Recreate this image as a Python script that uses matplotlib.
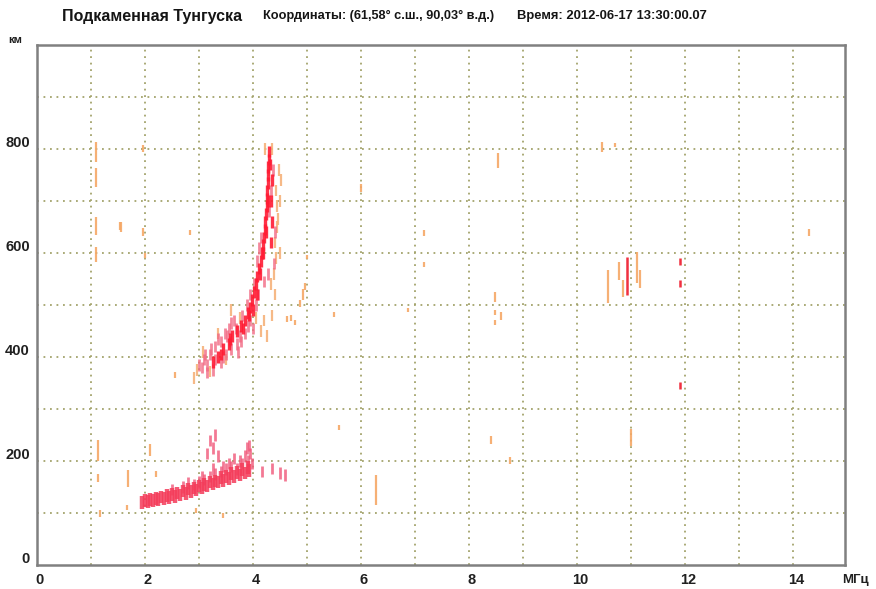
import matplotlib
matplotlib.use('Agg')
import matplotlib.pyplot as plt

plt.rcParams['font.family'] = ['Liberation Sans', 'DejaVu Sans']
plt.rcParams['font.weight'] = 'bold'

station = 'Подкаменная Тунгуска'
coords = 'Координаты: (61,58° с.ш., 90,03° в.д.)'
timestamp = 'Время: 2012-06-17 13:30:00.07'

freq_ticks = [0, 2, 4, 6, 8, 10, 12, 14]
height_ticks = [0, 200, 400, 600, 800]

# F-layer trace, strongest echoes (MHz, km)
f_strong = [3.25, 3.35, 3.45, 3.55, 3.62, 3.70, 3.78, 3.85, 3.90, 3.95, 3.98, 4.02,
            4.05, 4.08, 4.11, 4.14, 4.16, 4.18, 4.20, 4.22, 4.23, 4.24, 4.25, 4.26,
            4.26, 4.27, 4.28, 4.28, 4.29, 4.30, 4.33, 4.35, 4.34, 4.36, 3.82, 3.92,
            4.00, 4.07, 4.13, 4.19, 4.24, 4.27, 4.31, 3.40, 3.58]
h_strong = [390, 400, 415, 425, 440, 450, 460, 470, 485, 495, 510, 525,
            540, 555, 570, 585, 600, 615, 630, 645, 660, 675, 690, 705,
            720, 735, 750, 765, 780, 795, 620, 660, 700, 740, 455, 480,
            490, 520, 560, 600, 640, 700, 770, 405, 435]

# F-layer trace, weaker spread
f_mid = [3.05, 3.10, 3.15, 3.20, 3.30, 3.40, 3.48, 3.55, 3.60, 3.30, 3.40, 3.50,
         3.60, 3.70, 3.75, 3.85, 3.90, 3.15, 3.00, 3.65, 3.80, 3.95, 4.00, 4.05,
         3.25, 3.45, 3.58, 3.72, 4.10, 4.20, 4.38, 4.40, 4.30, 4.12, 3.12, 3.22,
         3.35, 3.52, 3.68, 3.78, 3.88, 4.02, 4.08, 4.15, 4.33, 4.37, 4.28, 3.95]
h_mid = [380, 395, 385, 405, 420, 430, 445, 455, 465, 395, 390, 405,
         415, 425, 440, 445, 460, 370, 385, 470, 480, 470, 455, 500,
         375, 400, 430, 410, 520, 545, 580, 640, 680, 610, 405, 415,
         435, 440, 455, 430, 500, 540, 585, 630, 720, 760, 560, 520]

# F-layer trace, faint edge echoes
f_faint = [4.40, 4.45, 4.45, 4.42, 4.48, 4.35, 4.38, 4.40, 4.35, 4.15, 4.20, 4.50,
           4.50, 4.52, 2.97, 2.90, 4.25, 3.60, 3.35, 4.42, 4.30, 4.22, 3.08, 3.20,
           3.50, 3.75, 4.05, 4.47, 4.33]
h_faint = [620, 650, 690, 720, 760, 800, 560, 520, 480, 450, 470, 600,
           700, 740, 375, 360, 440, 490, 445, 590, 760, 800, 410, 372,
           395, 475, 475, 665, 540]

# E / F1 trace, dense band
f_low = [1.95, 2.05, 2.15, 2.25, 2.35, 2.45, 2.55, 2.65, 2.75, 2.85, 2.95, 3.05,
         3.15, 3.25, 3.35, 3.45, 3.55, 3.65, 3.75, 3.85, 3.92, 2.10, 2.30, 2.50,
         2.70, 2.90, 3.10, 3.30, 3.50, 3.70, 3.90, 2.00, 2.20, 2.40, 2.60, 2.80,
         3.00, 3.20, 3.40, 3.60, 3.80]
h_low = [120, 122, 124, 126, 128, 130, 132, 135, 138, 141, 144, 148,
         152, 156, 160, 163, 166, 170, 173, 177, 182, 126, 131, 136,
         142, 148, 155, 162, 170, 178, 188, 124, 128, 134, 139, 146,
         152, 160, 168, 176, 184]

# E / F1 trace, echoes above the band
f_low_up = [2.50, 2.70, 2.90, 3.00, 3.10, 3.20, 3.30, 3.40, 3.50, 3.60, 3.70, 3.80,
            3.90, 3.95, 3.92, 3.55, 3.25, 3.75, 3.15, 3.20, 3.25, 3.30, 3.35, 4.17,
            4.35, 4.50, 4.60, 3.85, 3.65, 3.45, 3.05, 2.80, 3.88, 3.98]
h_low_up = [145, 150, 155, 160, 165, 170, 175, 180, 185, 190, 185, 195,
            200, 215, 230, 195, 185, 200, 215, 240, 225, 250, 210, 180,
            186, 177, 173, 210, 205, 190, 170, 158, 225, 195]

# scattered single echoes: frequency, lower and upper height
f_spot = [1.10, 1.10, 1.10, 1.10, 1.56, 1.96, 2.00, 7.17, 7.17, 8.54, 8.48, 8.48,
          8.60, 8.48, 6.87, 10.46, 10.70, 10.57, 10.78, 10.85, 11.11, 11.17, 11.00,
          14.30, 8.40, 8.76, 6.28, 5.60, 4.93, 4.70, 5.50, 1.13, 1.13, 1.68, 2.10,
          2.20, 1.17, 1.67, 1.54, 2.83, 2.55, 6.00, 4.63, 4.78, 4.87, 4.96, 5.00,
          1.97, 3.45, 2.95]
lo_spot = [775, 727, 635, 583, 640, 632, 590, 633, 573, 763, 506, 481,
           471, 462, 487, 794, 804, 504, 548, 515, 542, 533, 228,
           632, 232, 195, 115, 260, 510, 470, 476, 200, 160, 150, 210,
           170, 92, 105, 645, 635, 360, 718, 468, 462, 496, 529, 588,
           795, 90, 100]
hi_spot = [813, 763, 669, 612, 660, 648, 600, 644, 583, 792, 525, 490,
           487, 471, 494, 813, 812, 567, 583, 548, 602, 567, 262,
           646, 248, 208, 173, 270, 530, 480, 486, 240, 176, 182, 232,
           180, 106, 115, 660, 645, 372, 732, 478, 472, 510, 542, 596,
           808, 100, 110]

# strong isolated echoes near 11.9 MHz and 10.9 MHz
f_spot_red = [11.90, 11.90, 11.90, 10.93]
lo_spot_red = [576, 535, 338, 519]
hi_spot_red = [590, 548, 352, 592]

fig = plt.figure(figsize=(8.76, 5.89), dpi=100)
ax = fig.add_axes([0.0422, 0.0407, 0.9224, 0.8829])

dash = 22
ax.vlines(f_faint, [h - dash / 2 for h in h_faint], [h + dash / 2 for h in h_faint],
          color='#f6b27a', lw=1.6, alpha=0.9, zorder=3)
ax.vlines(f_spot, lo_spot, hi_spot, color='#f5a866', lw=1.6, alpha=0.9, zorder=3)
ax.vlines(f_mid, [h - dash / 2 for h in h_mid], [h + dash / 2 for h in h_mid],
          color='#f26a84', lw=2.0, alpha=0.8, zorder=4)
ax.vlines(f_low_up, [h - dash / 2 for h in h_low_up], [h + dash / 2 for h in h_low_up],
          color='#f0587a', lw=2.0, alpha=0.8, zorder=4)
ax.vlines(f_low, [h - 12 for h in h_low], [h + 12 for h in h_low],
          color='#f43c5a', lw=3.2, alpha=0.85, zorder=5)
ax.vlines(f_strong, [h - dash / 2 for h in h_strong], [h + dash / 2 for h in h_strong],
          color='#ff1c34', lw=2.4, alpha=0.9, zorder=5)
ax.vlines(f_spot_red, lo_spot_red, hi_spot_red, color='#f03040', lw=1.8, zorder=5)

ax.set_xlim(0, 14.96)
ax.set_ylim(0, 1000)
ax.set_xticks(range(1, 15))
ax.set_yticks(range(100, 1000, 100))
ax.grid(True, color='#a4a46c', linestyle=(0, (1, 2.6)), linewidth=1.3, zorder=1)
ax.tick_params(length=0)
ax.set_xticklabels([])
ax.set_yticklabels([])

# only every second grid line gets a label
for f in freq_ticks:
    ax.text(f + 0.05, -29, str(f), ha='center', va='center', fontsize=10.5,
            fontweight='bold', color='#202020')
for h in height_ticks:
    ax.text(-0.13, h + 12, str(h), ha='right', va='center', fontsize=10.5,
            fontweight='bold', color='#202020')

for s in ax.spines.values():
    s.set_color('#808080')
    s.set_linewidth(1.8)

fig.text(62 / 876, 1 - 16 / 589, station, fontsize=11.5, fontweight='bold',
         va='center', ha='left', color='#151515')
fig.text(263 / 876, 1 - 16 / 589, coords, fontsize=9.2, fontweight='bold',
         va='center', ha='left', color='#151515')
fig.text(517 / 876, 1 - 16 / 589, timestamp, fontsize=9.4, fontweight='bold',
         va='center', ha='left', color='#151515')
fig.text(8 / 876, 1 - 40 / 589, 'км', fontsize=8, fontweight='bold',
         va='center', ha='left', color='#202020')
fig.text(842 / 876, 1 - 580 / 589, 'МГц', fontsize=9.5, fontweight='bold',
         va='center', ha='left', color='#202020')

fig.savefig('out.png', dpi=100, facecolor='white')
